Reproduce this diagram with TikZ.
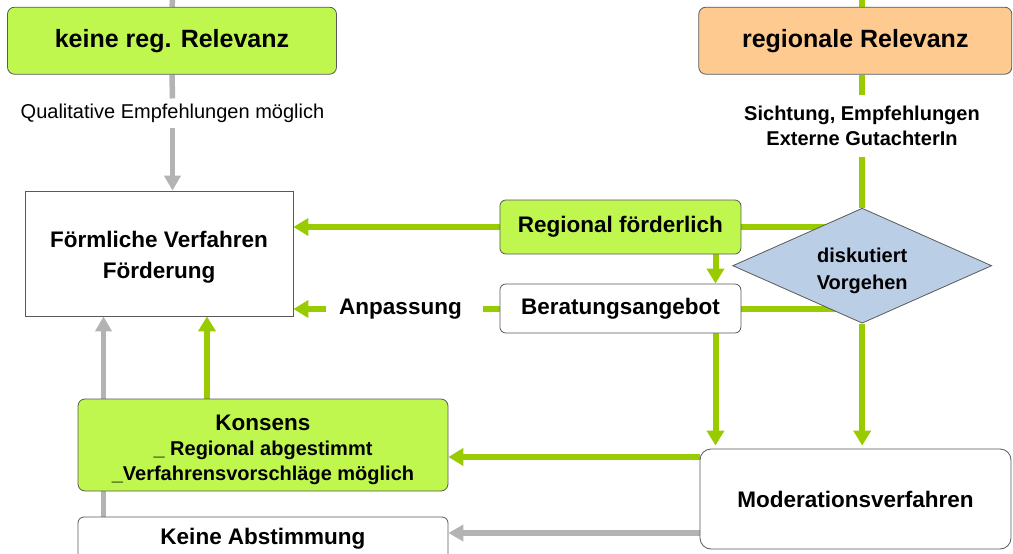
\documentclass[tikz,border=0pt]{standalone}
\usepackage{fontspec}
\setmainfont{Liberation Sans}
\usetikzlibrary{arrows.meta,shapes.geometric,backgrounds}
\definecolor{limefill}{HTML}{C0F74F}
\definecolor{lgreen}{HTML}{99CC00}
\definecolor{lgray}{HTML}{B3B3B3}
\definecolor{orangefill}{HTML}{FFCA90}
\definecolor{diafill}{HTML}{BACEE6}
\definecolor{bordc}{HTML}{595959}
\newcommand{\ftitle}{\fontsize{25}{30}\selectfont\bfseries}
\newcommand{\fmain}{\fontsize{22.5}{31.5}\selectfont\bfseries}
\newcommand{\fsmall}{\fontsize{20}{25}\selectfont\bfseries}
\newcommand{\freg}{\fontsize{20}{25}\selectfont}
\tikzset{
  boxbase/.style={draw=bordc, line width=0.8pt, inner sep=0pt, align=center},
  limebox/.style={boxbase, fill=limefill, rounded corners=7pt},
  whitebox/.style={boxbase, fill=white, rounded corners=6pt},
  plainbox/.style={boxbase, fill=white},
  lbl/.style={fill=white, inner ysep=5pt, inner xsep=4pt, align=center},
  gline/.style={draw=lgreen, line width=6pt},
  garrow/.style={gline, -{Triangle[length=15pt,width=17pt]}},
  grline/.style={draw=lgray, line width=5.5pt},
  grarrow/.style={grline, -{Triangle[length=15pt,width=16pt]}},
}
\begin{document}
\begin{tikzpicture}[x=1pt,y=-1pt]
\useasboundingbox (0,0) rectangle (1013,554);
% nodes
\node[limebox, minimum width=329pt, minimum height=67pt, font=\ftitle] (kr) at (172,40.7) {keine reg. Relevanz};
\node[boxbase, fill=orangefill, rounded corners=7pt, minimum width=313pt, minimum height=67pt, font=\ftitle] (rr) at (855.3,40.7) {regionale Relevanz};
\node[lbl, font=\freg] (qual) at (172.5,113) {Qualitative Empfehlungen möglich};
\node[lbl, font=\fsmall, inner ysep=11pt] (sicht) at (862,126) {Sichtung, Empfehlungen\\Externe GutachterIn};
\node[plainbox, minimum width=268pt, minimum height=125pt, font=\fmain] (foerm) at (159,253.5) {\rule{0pt}{24pt}Förmliche Verfahren\\Förderung};
\node[limebox, rounded corners=6pt, minimum width=241pt, minimum height=54pt, font=\fmain] (regf) at (620.4,227) {Regional förderlich};
\node[whitebox, minimum width=241pt, minimum height=49pt, font=\fmain] (berat) at (620.4,308.5) {Beratungsangebot};
\node[diamond, draw=bordc, line width=0.8pt, fill=diafill, aspect=2.25, inner sep=0pt, minimum width=259pt, minimum height=115pt, align=center, font=\fontsize{20}{27}\selectfont\bfseries] (dia) at (862.2,265.7) {\rule{0pt}{25pt}diskutiert\\Vorgehen};
\node[lbl, inner xsep=13pt, font=\fmain] (anp) at (400.5,309) {Anpassung};
\node[limebox, minimum width=370pt, minimum height=92pt, align=center, font=\fsmall] (kons) at (263,445) {{\fmain\rule{0pt}{26pt}Konsens}\\\_ Regional abgestimmt\\\_Verfahrensvorschläge möglich};
\node[whitebox, minimum width=370pt, minimum height=44pt, font=\fmain] (keine) at (263,539) {Keine Abstimmung};
\node[whitebox, rounded corners=11pt, minimum width=311pt, minimum height=100pt, font=\fmain] (mod) at (855.5,499) {Moderationsverfahren};
% coordinates
\coordinate (topL) at (172.5,0);
\coordinate (topR) at (862,0);
\coordinate (cx) at (715.5,0);
\coordinate (cxa) at (207,0);
\coordinate (cxb) at (103.5,0);
\coordinate (yk) at (0,457);
\coordinate (yg) at (0,533);
% connectors
\begin{scope}[on background layer]
\draw[grline] (topL) -- (kr.north);
\draw[grline] (kr.south) -- (qual.north);
\draw[grarrow] (qual.south) -- (qual.south |- foerm.north);
\draw[gline] (topR) -- (rr.north -| topR);
\draw[gline] (rr.south -| topR) -- (sicht.north);
\draw[gline] (sicht.south) -- (dia.north);
\draw[garrow] (dia.center |- regf.east) -- (foerm.east |- regf.east);
\draw[gline, shorten >=8pt] (dia.center |- anp.east) -- (anp.east);
\draw[garrow] (anp.west) -- (foerm.east |- anp.west);
\draw[garrow] (regf.south -| cx) -- (berat.north -| cx);
\draw[garrow, shorten >=3pt] (berat.south -| cx) -- (mod.north -| cx);
\draw[garrow, shorten >=3pt] (dia.south) -- (mod.north -| dia.south);
\draw[garrow] (mod.west |- yk) -- (kons.east |- yk);
\draw[grarrow] (mod.west |- yg) -- (keine.east |- yg);
\draw[garrow] (kons.north -| cxa) -- (foerm.south -| cxa);
\draw[grarrow] (keine.north -| cxb) -- (foerm.south -| cxb);
\end{scope}
\end{tikzpicture}
\end{document}
